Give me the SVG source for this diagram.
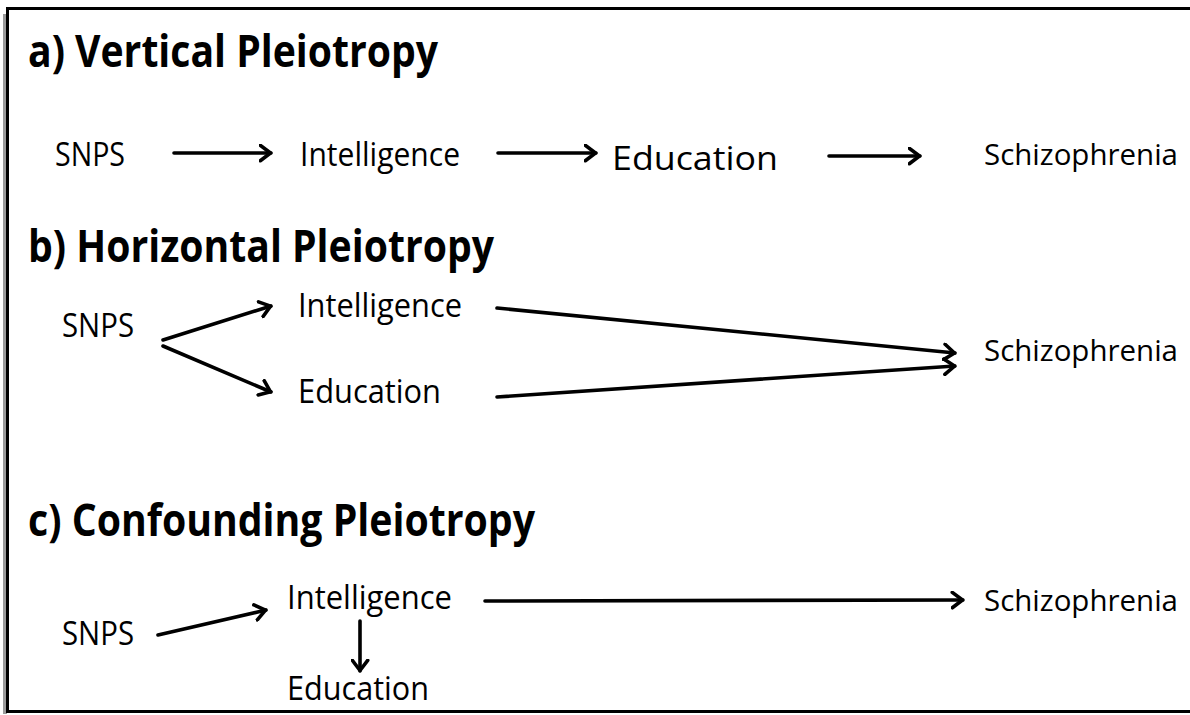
<svg xmlns="http://www.w3.org/2000/svg" width="1190" height="715" viewBox="0 0 1190 715">
<style>
.t{font-family:"Open Sans","Liberation Sans",sans-serif;font-weight:bold;font-size:44px;fill:#000}
.l{font-family:"Open Sans","Liberation Sans",sans-serif;font-size:32px;fill:#000}
.s{font-size:30px}
.c{stroke:#000;stroke-width:3.6;fill:none;stroke-linecap:round}
</style>
<defs>
<marker id="ah" viewBox="0 0 14 19" refX="12.5" refY="9.5" markerWidth="14" markerHeight="19" markerUnits="userSpaceOnUse" orient="auto">
<path d="M1.8,1.8 L12,9.5 L1.8,17.2" fill="none" stroke="#000" stroke-width="3.6" stroke-linecap="round" stroke-linejoin="round"/>
</marker>
</defs>
<rect x="0" y="0" width="1190" height="715" fill="#fff"/>
<rect x="3" y="14" width="4" height="700" fill="#9a9a9a"/>
<rect x="7.5" y="8.5" width="1190" height="703" fill="#fff" stroke="#000" stroke-width="3"/>

<g id="title-a"><text class="t" x="28" y="67" textLength="410" lengthAdjust="spacingAndGlyphs">a) Vertical Pleiotropy</text></g>
<g id="a-snps"><text class="l" x="55" y="166" textLength="70" lengthAdjust="spacingAndGlyphs">SNPS</text></g>
<g id="a-intelligence"><text class="l" x="300" y="166" textLength="160" lengthAdjust="spacingAndGlyphs">Intelligence</text></g>
<g id="a-education"><text class="l" x="612" y="170" textLength="166" lengthAdjust="spacingAndGlyphs">Education</text></g>
<g id="a-schizophrenia"><text class="l s" x="984" y="165" textLength="194" lengthAdjust="spacingAndGlyphs">Schizophrenia</text></g>

<g id="title-b"><text class="t" x="28" y="262" textLength="466" lengthAdjust="spacingAndGlyphs">b) Horizontal Pleiotropy</text></g>
<g id="b-snps"><text class="l" x="62" y="337" textLength="72" lengthAdjust="spacingAndGlyphs">SNPS</text></g>
<g id="b-intelligence"><text class="l" x="298" y="317" textLength="164" lengthAdjust="spacingAndGlyphs">Intelligence</text></g>
<g id="b-education"><text class="l" x="298" y="403" textLength="143" lengthAdjust="spacingAndGlyphs">Education</text></g>
<g id="b-schizophrenia"><text class="l s" x="984" y="361" textLength="194" lengthAdjust="spacingAndGlyphs">Schizophrenia</text></g>

<g id="title-c"><text class="t" x="28" y="536" textLength="507" lengthAdjust="spacingAndGlyphs">c) Confounding Pleiotropy</text></g>
<g id="c-snps"><text class="l" x="62" y="645" textLength="72" lengthAdjust="spacingAndGlyphs">SNPS</text></g>
<g id="c-intelligence"><text class="l" x="287" y="609" textLength="165" lengthAdjust="spacingAndGlyphs">Intelligence</text></g>
<g id="c-education"><text class="l" x="287" y="700" textLength="142" lengthAdjust="spacingAndGlyphs">Education</text></g>
<g id="c-schizophrenia"><text class="l s" x="984" y="611" textLength="194" lengthAdjust="spacingAndGlyphs">Schizophrenia</text></g>

<g id="connectors">
<line class="c" x1="174" y1="153" x2="271" y2="153" marker-end="url(#ah)"/>
<line class="c" x1="498" y1="153" x2="596" y2="153" marker-end="url(#ah)"/>
<line class="c" x1="829" y1="156" x2="920" y2="156" marker-end="url(#ah)"/>
<line class="c" x1="163" y1="340" x2="271" y2="306" marker-end="url(#ah)"/>
<line class="c" x1="163" y1="346" x2="271" y2="392" marker-end="url(#ah)"/>
<line class="c" x1="497" y1="308" x2="955" y2="353" marker-end="url(#ah)"/>
<line class="c" x1="497" y1="397" x2="955" y2="366" marker-end="url(#ah)"/>
<line class="c" x1="158" y1="635" x2="266" y2="610" marker-end="url(#ah)"/>
<line class="c" x1="485" y1="601" x2="963" y2="600" marker-end="url(#ah)"/>
<line class="c" x1="360" y1="621" x2="360" y2="671" marker-end="url(#ah)"/>
</g>
</svg>
